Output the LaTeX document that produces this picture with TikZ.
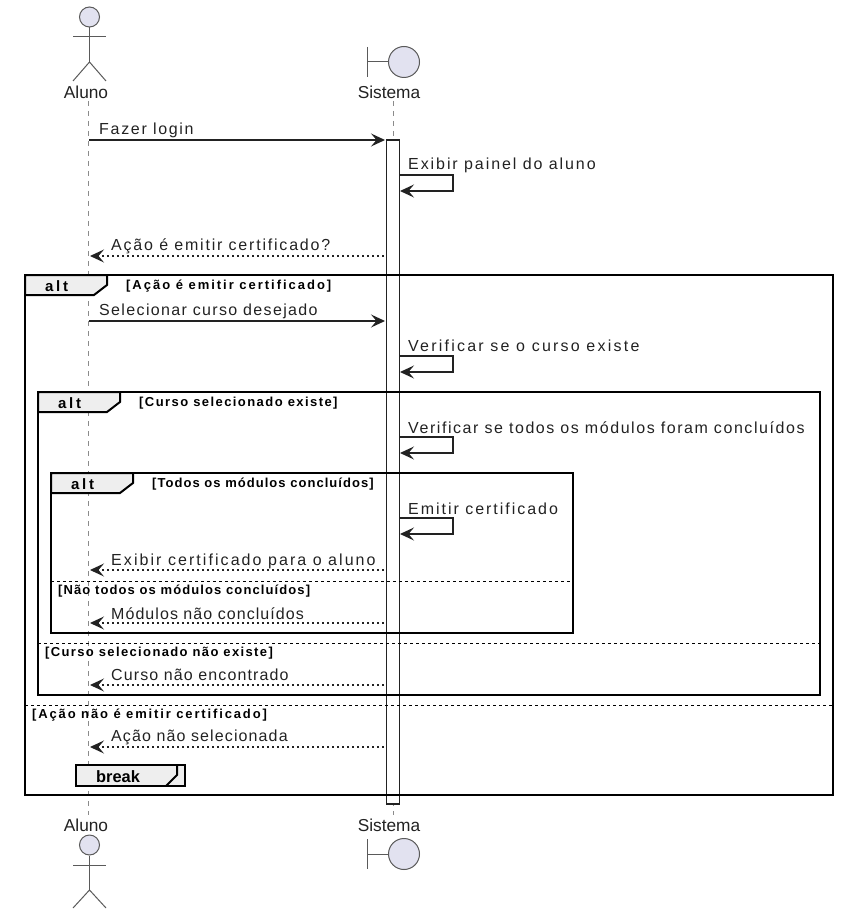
\documentclass[tikz,border=0pt]{standalone}
\usepackage{fontspec}
\setmainfont{Liberation Sans}
\usetikzlibrary{arrows.meta}
\definecolor{actorfill}{HTML}{E2E2F0}
\definecolor{actorline}{HTML}{5A5A5A}
\definecolor{tabfill}{HTML}{EEEEEE}
\definecolor{inkc}{HTML}{222222}
\tikzset{
  x=1pt,y=-1pt,
  tip/.style={-{Stealth[length=14pt,width=13pt,inset=5.5pt]}},
  msg/.style={draw=inkc,line width=1.2pt,tip},
  reply/.style={msg,dash pattern=on 2.5pt off 2.5pt},
  selfmsg/.style={msg},
  msglabel/.style={anchor=west,inner sep=0pt,text=inkc,font=\fontsize{16}{18}\selectfont\addfontfeature{LetterSpace=#1}},
  condlabel/.style={anchor=west,inner sep=0pt,text=black,font=\bfseries\fontsize{13}{15}\selectfont\addfontfeature{LetterSpace=#1}},
  taglabel/.style={anchor=west,inner sep=0pt,text=black,font=\bfseries\fontsize{15}{17}\selectfont\addfontfeature{LetterSpace=18}},
  actorlabel/.style={anchor=center,inner sep=0pt,text=inkc,font=\fontsize{17.3}{19}\selectfont},
  lifeline/.style={draw=actorline!70,line width=1pt,dash pattern=on 5pt off 5pt},
  actorpart/.style={draw=actorline,line width=1pt,fill=actorfill},
  framebox/.style={draw=black,line width=2pt,outer sep=0pt},
  tabshape/.style={draw=black,line width=2pt,fill=tabfill,line join=miter},
  separator/.style={draw=black,line width=1pt,dash pattern=on 3pt off 3pt},
  activation/.style={draw=inkc,line width=1.1pt,fill=white,minimum width=13pt,inner sep=0pt,outer sep=0pt,anchor=north},
}
\newcommand{\selfloop}[3]{%
  \coordinate (#1s) at (400,#2);
  \coordinate (#1a) at (453,#2);
  \coordinate (#1b) at (453,#3);
  \coordinate (#1e) at (400,#3);
  \draw[selfmsg] (#1s) -- (#1a) -- (#1b) -- (#1e);
}
\begin{document}
\begin{tikzpicture}
\useasboundingbox (0,0) rectangle (841,917);
% actor labels
\node[actorlabel] (alunoT) at (86,92.5) {Aluno};
\node[actorlabel] (sisT) at (389,92.5) {Sistema};
\node[actorlabel] (alunoB) at (86,825.5) {Aluno};
\node[actorlabel] (sisB) at (389,825.5) {Sistema};
% lifelines
\coordinate (llAt) at (88.5,101);
\coordinate (llAb) at (88.5,815);
\coordinate (llSt) at (393,101);
\coordinate (llSb) at (393,815);
\draw[lifeline] (llAt) -- (llAb);
\draw[lifeline] (llSt) -- (llSb);
% top actor
\node[actorpart,circle,minimum size=20pt,inner sep=0pt] (headT) at (89.5,17) {};
\coordinate (hipT) at (89.5,62);
\draw[actorpart,fill=none] (headT.south) -- (hipT);
\draw[actorpart,fill=none] (73,37) -- (106,37);
\draw[actorpart,fill=none] (73,81) -- (hipT) -- (106,81);
% bottom actor
\node[actorpart,circle,minimum size=20pt,inner sep=0pt] (headB) at (89.5,845) {};
\coordinate (hipB) at (89.5,890);
\draw[actorpart,fill=none] (headB.south) -- (hipB);
\draw[actorpart,fill=none] (73,865) -- (106,865);
\draw[actorpart,fill=none] (73,908) -- (hipB) -- (106,908);
% boundaries
\node[actorpart,circle,minimum size=31pt,inner sep=0pt] (bndT) at (404,62) {};
\coordinate (barT) at (367,62);
\draw[actorpart,fill=none] (367,47) -- (367,77);
\draw[actorpart,fill=none] (barT) -- (bndT.west);
\node[actorpart,circle,minimum size=31pt,inner sep=0pt] (bndB) at (404,854) {};
\coordinate (barB) at (367,854);
\draw[actorpart,fill=none] (367,839) -- (367,869);
\draw[actorpart,fill=none] (barB) -- (bndB.west);
% activation
\node[activation,minimum height=664pt] (act) at (393,140) {};
% frames
\node[framebox,anchor=north west,minimum width=808pt,minimum height=520pt,inner sep=0pt] (f1) at (25,275) {};
\node[framebox,anchor=north west,minimum width=782pt,minimum height=303pt,inner sep=0pt] (f2) at (38,392) {};
\node[framebox,anchor=north west,minimum width=522pt,minimum height=160pt,inner sep=0pt] (f3) at (51,473) {};
% tabs
\draw[tabshape] (25,275) -- (107,275) -- (107,285) -- (94,295) -- (25,295) -- cycle;
\draw[tabshape] (38,392) -- (120,392) -- (120,402) -- (107,412) -- (38,412) -- cycle;
\draw[tabshape] (51,473) -- (133,473) -- (133,483) -- (120,493) -- (51,493) -- cycle;
\node[taglabel] (t1) at (45,286) {alt};
\node[taglabel] (t2) at (58,403) {alt};
\node[taglabel] (t3) at (71,484) {alt};
\node[condlabel=15.2] (c1) at (126,286.5) {[Ação é emitir certificado]};
\node[condlabel=11] (c2) at (139,403.5) {[Curso selecionado existe]};
\node[condlabel=8] (c3) at (152,484.5) {[Todos os módulos concluídos]};
% separators
\draw[separator] (f3.west |- 0,581) -- (f3.east |- 0,581);
\draw[separator] (f2.west |- 0,643) -- (f2.east |- 0,643);
\draw[separator] (f1.west |- 0,705) -- (f1.east |- 0,705);
\node[condlabel=8.5] (c4) at (58,591.5) {[Não todos os módulos concluídos]};
\node[condlabel=10.5] (c5) at (45,653.5) {[Curso selecionado não existe]};
\node[condlabel=14.3] (c6) at (32,715.5) {[Ação não é emitir certificado]};
% break
\node[draw=black,line width=2pt,fill=tabfill,anchor=north west,outer sep=0pt,minimum width=109pt,minimum height=21pt,inner sep=0pt] (brk) at (76,765) {};
\coordinate (bk1) at (177,765);
\coordinate (bk2) at (177,775);
\coordinate (bk3) at (166,786);
\draw[black,line width=2pt] (bk1) -- (bk2) -- (bk3);
\node[anchor=west,inner sep=0pt,text=black,font=\bfseries\fontsize{16.4}{18}\selectfont] (brkT) at (96,777) {break};
% messages
\coordinate (m1s) at (89,140); \coordinate (m1e) at (385,140);
\draw[msg] (m1s) -- (m1e);
\node[msglabel=10.6] (l1) at (99,130) {Fazer login};
\selfloop{s1}{175}{191}
\node[msglabel=12] (l2) at (408,165) {Exibir painel do aluno};
\coordinate (m2s) at (384,256); \coordinate (m2e) at (90,256);
\draw[reply] (m2s) -- (m2e);
\node[msglabel=11.2] (l3) at (111,246) {Ação é emitir certificado?};
\coordinate (m3s) at (89,321); \coordinate (m3e) at (385,321);
\draw[msg] (m3s) -- (m3e);
\node[msglabel=8.5] (l4) at (99,311) {Selecionar curso desejado};
\selfloop{s2}{356}{372}
\node[msglabel=13.9] (l5) at (408,346) {Verificar se o curso existe};
\selfloop{s3}{437}{453}
\node[msglabel=9.8] (l6) at (408,428) {Verificar se todos os módulos foram concluídos};
\selfloop{s4}{518}{534}
\node[msglabel=12.3] (l7) at (408,509) {Emitir certificado};
\coordinate (m4s) at (384,570); \coordinate (m4e) at (90,570);
\draw[reply] (m4s) -- (m4e);
\node[msglabel=12.9] (l8) at (111,561) {Exibir certificado para o aluno};
\coordinate (m5s) at (384,623); \coordinate (m5e) at (90,623);
\draw[reply] (m5s) -- (m5e);
\node[msglabel=6.6] (l9) at (111,614) {Módulos não concluídos};
\coordinate (m6s) at (384,685); \coordinate (m6e) at (90,685);
\draw[reply] (m6s) -- (m6e);
\node[msglabel=7] (l10) at (111,675) {Curso não encontrado};
\coordinate (m7s) at (384,747); \coordinate (m7e) at (90,747);
\draw[reply] (m7s) -- (m7e);
\node[msglabel=7] (l11) at (111,737) {Ação não selecionada};
\end{tikzpicture}
\end{document}
